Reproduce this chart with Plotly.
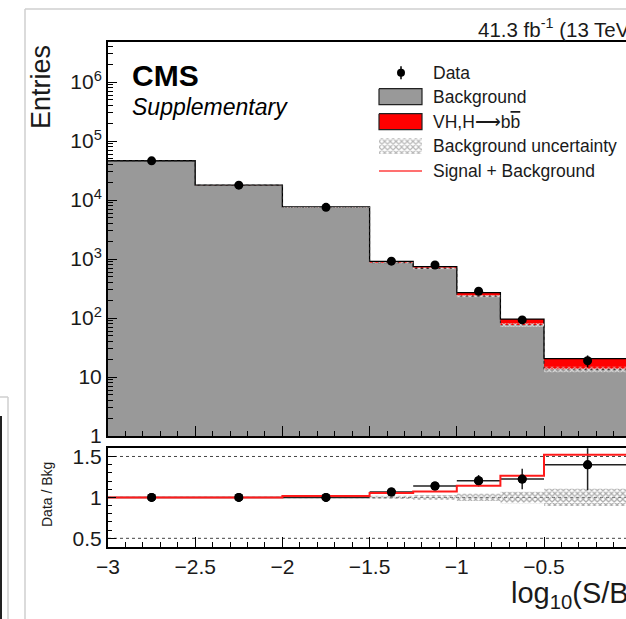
import plotly.graph_objects as go

# ---------------- data ----------------
bin_edges = [-3.0, -2.5, -2.0, -1.5, -1.25, -1.0, -0.75, -0.5, 0.0]
background = [46400, 17900, 7520, 865, 695, 236, 76, 13.5]
signal = [60, 40, 128, 47, 51, 34, 20, 7]
data_counts = [46300, 17900, 7520, 922, 792, 284, 93, 18.9]
data_errors = [215, 134, 87, 30, 28, 17, 9.6, 4.3]
bkg_unc_rel = [0.004, 0.006, 0.01, 0.02, 0.03, 0.045, 0.07, 0.105]
ratio_data = [1.0, 1.0, 1.0, 1.066, 1.139, 1.204, 1.224, 1.398]
ratio_err = [0.005, 0.007, 0.01, 0.035, 0.04, 0.07, 0.125, 0.31]
sb_ratio = [1.0, 1.0, 1.017, 1.054, 1.073, 1.143, 1.265, 1.52]
ratio_ref_lines = [0.5, 1.0, 1.5]

y_tickvals = [1, 10, 1e2, 1e3, 1e4, 1e5, 1e6]
y_ticktext = ["1", "10", "10<sup>2</sup>", "10<sup>3</sup>", "10<sup>4</sup>",
              "10<sup>5</sup>", "10<sup>6</sup>"]
r_tickvals = [0.5, 1.0, 1.5]
r_ticktext = ["0.5", "1", "1.5"]

legend_labels = ["Data", "Background",
                 "VH,H\u27f6b<span style='text-decoration:overline'>b</span>",
                 "Background uncertainty", "Signal + Background"]

# ---------------- helpers ----------------
W, H = 626, 619
FONT = "Liberation Sans, Arial, Helvetica, sans-serif"


def px(x):
    return x / W


def py(y):
    return 1 - y / H


def steps(edges, vals):
    xs, ys = [], []
    for i, v in enumerate(vals):
        xs += [edges[i], edges[i + 1]]
        ys += [v, v]
    return xs, ys


centers = [(bin_edges[i] + bin_edges[i + 1]) / 2 for i in range(len(background))]
halfw = [(bin_edges[i + 1] - bin_edges[i]) / 2 for i in range(len(background))]
total = [b + s for b, s in zip(background, signal)]

fig = go.Figure()

# ---- main panel ----
bx, by = steps(bin_edges, background)
fig.add_trace(go.Scatter(x=bx + [bin_edges[-1], bin_edges[0]], y=by + [1, 1],
                         fill="toself", fillcolor="#999999", mode="none",
                         xaxis="x", yaxis="y", showlegend=False, hoverinfo="skip"))
tx, ty = steps(bin_edges, total)
fig.add_trace(go.Scatter(x=tx + bx[::-1], y=ty + by[::-1], fill="toself",
                         fillcolor="#ff0000", mode="none", xaxis="x", yaxis="y",
                         showlegend=False, hoverinfo="skip"))
fig.add_trace(go.Scatter(x=tx, y=ty, mode="lines", line=dict(color="black", width=1.3),
                         xaxis="x", yaxis="y", showlegend=False, hoverinfo="skip"))
fig.add_trace(go.Scatter(x=bx, y=by, mode="lines",
                         line=dict(color="#222222", width=1, dash="dot"),
                         xaxis="x", yaxis="y", showlegend=False, hoverinfo="skip"))
ux, uy_hi = steps(bin_edges, [b * (1 + u) for b, u in zip(background, bkg_unc_rel)])
_, uy_lo = steps(bin_edges, [b * (1 - u) for b, u in zip(background, bkg_unc_rel)])
fig.add_trace(go.Scatter(x=ux + ux[::-1], y=uy_hi + uy_lo[::-1], fill="toself",
                         fillcolor="rgba(0,0,0,0)", mode="none",
                         fillpattern=dict(shape="x", fgcolor="#d8d8d8", size=4, solidity=0.5),
                         xaxis="x", yaxis="y", showlegend=False, hoverinfo="skip"))
fig.add_trace(go.Scatter(x=centers, y=data_counts, mode="markers",
                         marker=dict(color="black", size=9),
                         error_y=dict(type="data", array=data_errors, color="black",
                                      thickness=1.5, width=0),
                         xaxis="x", yaxis="y", showlegend=False))

# ---- ratio panel ----
for v in ratio_ref_lines:
    fig.add_trace(go.Scatter(x=[bin_edges[0], bin_edges[-1]], y=[v, v], mode="lines",
                             line=dict(color="#444444", width=1, dash="dot"),
                             xaxis="x2", yaxis="y2", showlegend=False, hoverinfo="skip"))
rx, ry_hi = steps(bin_edges, [1 + u for u in bkg_unc_rel])
_, ry_lo = steps(bin_edges, [1 - u for u in bkg_unc_rel])
fig.add_trace(go.Scatter(x=rx + rx[::-1], y=ry_hi + ry_lo[::-1], fill="toself",
                         fillcolor="rgba(0,0,0,0)", mode="none",
                         fillpattern=dict(shape="x", fgcolor="#a8a8a8", size=4, solidity=0.5),
                         xaxis="x2", yaxis="y2", showlegend=False, hoverinfo="skip"))
fig.add_trace(go.Scatter(x=centers, y=ratio_data, mode="markers",
                         marker=dict(color="black", size=9),
                         error_x=dict(type="data", array=halfw, color="#222222",
                                      thickness=1.5, width=0),
                         error_y=dict(type="data", array=ratio_err, color="#222222",
                                      thickness=1.5, width=0),
                         xaxis="x2", yaxis="y2", showlegend=False))
sx, sy = steps(bin_edges, sb_ratio)
fig.add_trace(go.Scatter(x=sx, y=sy, mode="lines", line=dict(color="#ff1a1a", width=2),
                         xaxis="x2", yaxis="y2", showlegend=False, hoverinfo="skip"))
fig.add_trace(go.Scatter(x=centers, y=ratio_data, mode="markers",
                         marker=dict(color="black", size=9),
                         xaxis="x2", yaxis="y2", showlegend=False, hoverinfo="skip"))

# ---- legend (drawn on a pixel overlay axis) ----
leg_y = [72.7, 96.7, 121.7, 146, 171]
box_x0, box_x1 = 379, 422
fig.add_trace(go.Scatter(x=[401], y=[leg_y[0]], mode="markers",
                         marker=dict(color="black", size=8),
                         error_y=dict(type="data", array=[6.5], color="black",
                                      thickness=1.5, width=0),
                         xaxis="x3", yaxis="y3", showlegend=False, hoverinfo="skip"))
for yc, col in [(leg_y[1], "#999999"), (leg_y[2], "#ff0000")]:
    fig.add_trace(go.Scatter(x=[box_x0, box_x1, box_x1, box_x0, box_x0],
                             y=[yc - 8, yc - 8, yc + 8, yc + 8, yc - 8],
                             fill="toself", fillcolor=col, mode="lines",
                             line=dict(color="#222222", width=1.2),
                             xaxis="x3", yaxis="y3", showlegend=False, hoverinfo="skip"))
fig.add_trace(go.Scatter(x=[box_x0, box_x1, box_x1, box_x0, box_x0],
                         y=[leg_y[3] - 8, leg_y[3] - 8, leg_y[3] + 8, leg_y[3] + 8, leg_y[3] - 8],
                         fill="toself", fillcolor="rgba(0,0,0,0)", mode="none",
                         fillpattern=dict(shape="x", fgcolor="#b8b8b8", size=4, solidity=0.5),
                         xaxis="x3", yaxis="y3", showlegend=False, hoverinfo="skip"))
fig.add_trace(go.Scatter(x=[box_x0, box_x1], y=[leg_y[4], leg_y[4]], mode="lines",
                         line=dict(color="#ff4040", width=1.5),
                         xaxis="x3", yaxis="y3", showlegend=False, hoverinfo="skip"))

annotations = []
for lab, yc in zip(legend_labels, leg_y):
    annotations.append(dict(x=px(431), y=py(yc), xref="paper", yref="paper", text=lab,
                            showarrow=False, xanchor="left", yanchor="middle",
                            font=dict(family=FONT, size=17.5, color="#1a1a1a")))
annotations += [
    dict(x=px(130), y=py(76), xref="paper", yref="paper", text="<b>CMS</b>",
         showarrow=False, xanchor="left", yanchor="middle",
         font=dict(family=FONT, size=30, color="black")),
    dict(x=px(130), y=py(107), xref="paper", yref="paper", text="<i>Supplementary</i>",
         showarrow=False, xanchor="left", yanchor="middle",
         font=dict(family=FONT, size=23, color="black")),
    dict(x=px(476), y=py(28), xref="paper", yref="paper",
         text="41.3 fb<sup>-1</sup> (13 TeV)", showarrow=False,
         xanchor="left", yanchor="middle",
         font=dict(family=FONT, size=20.5, color="#1a1a1a")),
    dict(x=px(41), y=py(87), xref="paper", yref="paper", text="Entries",
         showarrow=False, textangle=-90, xanchor="center", yanchor="middle",
         font=dict(family=FONT, size=27, color="#1a1a1a")),
    dict(x=px(47), y=py(495), xref="paper", yref="paper", text="Data / Bkg",
         showarrow=False, textangle=-90, xanchor="center", yanchor="middle",
         font=dict(family=FONT, size=14, color="#1a1a1a")),
    dict(x=px(509), y=py(595), xref="paper", yref="paper", text="log<sub>10</sub>(S/B)",
         showarrow=False, xanchor="left", yanchor="middle",
         font=dict(family=FONT, size=29, color="#1a1a1a")),
]

shapes = [
    # outer light-gray frame of the page
    dict(type="line", xref="paper", yref="paper", x0=px(25), x1=px(25), y0=py(9), y1=0,
         line=dict(color="#cfcfcf", width=1.5)),
    dict(type="line", xref="paper", yref="paper", x0=px(25), x1=1, y0=py(9), y1=py(9),
         line=dict(color="#cfcfcf", width=1.5)),
    # fragment of neighbouring figure on the left
    dict(type="line", xref="paper", yref="paper", x0=px(8), x1=px(8), y0=py(397), y1=0,
         line=dict(color="#cfcfcf", width=1.5)),
    dict(type="line", xref="paper", yref="paper", x0=0, x1=px(8), y0=py(397), y1=py(397),
         line=dict(color="#cfcfcf", width=1.5)),
    dict(type="line", xref="paper", yref="paper", x0=px(1), x1=px(1), y0=py(416), y1=0,
         line=dict(color="#222222", width=2)),
]

x_range = [-3.0, -3.0 + (W - 108) / 174.4]
minor_log = [m * 10 ** e for e in range(0, 7) for m in range(2, 10)]

axis_common = dict(showgrid=False, zeroline=False, linecolor="black", linewidth=2,
                   ticks="inside", tickcolor="black", tickwidth=1.3, automargin=False)

fig.update_layout(
    template="none",
    width=W, height=H, margin=dict(l=0, r=0, t=0, b=0, pad=0, autoexpand=False),
    paper_bgcolor="white", plot_bgcolor="rgba(0,0,0,0)",
    showlegend=False,
    xaxis=dict(domain=[px(108), 1], range=x_range, anchor="y", mirror=True,
               showticklabels=False, tick0=-3, dtick=0.5, ticklen=10,
               minor=dict(dtick=0.1, tick0=-3, ticks="inside", ticklen=5,
                          tickcolor="black", tickwidth=1, showgrid=False),
               **axis_common),
    yaxis=dict(domain=[py(436), py(42)], type="log", range=[0, 6.68], anchor="x",
               tickmode="array", tickvals=y_tickvals, ticktext=y_ticktext, ticklen=9,
               minor=dict(tickmode="array", tickvals=minor_log, ticks="inside", ticklen=5,
                          tickcolor="black", tickwidth=1, showgrid=False),
               tickfont=dict(family=FONT, size=21, color="#1a1a1a"),
               **axis_common),
    xaxis2=dict(domain=[px(108), 1], range=x_range, anchor="y2", mirror=True,
                tick0=-3, dtick=0.5, ticklen=10,
                minor=dict(dtick=0.1, tick0=-3, ticks="inside", ticklen=5,
                           tickcolor="black", tickwidth=1, showgrid=False),
                tickfont=dict(family=FONT, size=21, color="#1a1a1a"),
                **axis_common),
    yaxis2=dict(domain=[py(546.5), py(448.3)], range=[0.4, 1.6], anchor="x2",
                tickmode="array", tickvals=r_tickvals, ticktext=r_ticktext, ticklen=8,
                minor=dict(dtick=0.1, tick0=0, ticks="inside", ticklen=4,
                           tickcolor="black", tickwidth=1, showgrid=False),
                tickfont=dict(family=FONT, size=21, color="#1a1a1a"),
                **axis_common),
    xaxis3=dict(domain=[0, 1], range=[0, W], anchor="y3", visible=False, fixedrange=True,
                automargin=False),
    yaxis3=dict(domain=[0, 1], range=[H, 0], anchor="x3", visible=False, fixedrange=True,
                automargin=False),
    annotations=annotations,
    shapes=shapes,
)

fig.write_html("out.html")
